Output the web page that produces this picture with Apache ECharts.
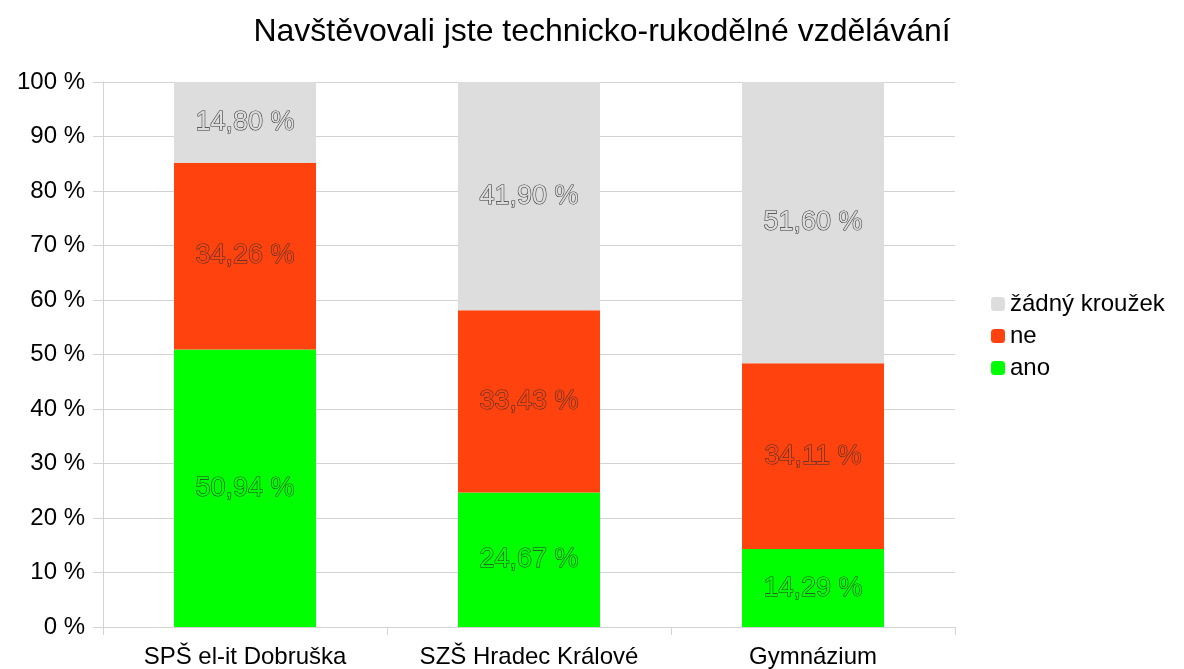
<!DOCTYPE html>
<html>
<head>
<meta charset="utf-8">
<script src="https://cdn.jsdelivr.net/npm/echarts@6/dist/echarts.min.js"></script>
<style>
  html, body { margin: 0; padding: 0; background: #fff; }
  #chart { width: 1184px; height: 669px; }
</style>
</head>
<body>
<div id="chart"></div>
<script>
// data
var categories = ['SPŠ el-it Dobruška', 'SZŠ Hradec Králové', 'Gymnázium'];
var ano = [50.94, 24.67, 14.29];
var ne = [34.26, 33.43, 34.11];
var zadny = [14.80, 41.90, 51.60];

var font = 'Liberation Sans';
var lineGray = '#d3d3d3';

function fmt(p) {
    return p.value.toFixed(2).replace('.', ',') + ' %';
}

function makeSeries(name, data, color) {
    return {
        name: name,
        type: 'bar',
        stack: 'total',
        barWidth: '50%',
        data: data,
        itemStyle: { color: color },
        label: {
            show: true,
            position: 'inside',
            formatter: fmt,
            fontFamily: font,
            fontSize: 27,
            color: color,
            textBorderColor: '#333',
            textBorderWidth: 1.1
        }
    };
}

var chart = echarts.init(document.getElementById('chart'));
chart.setOption({
    animation: false,
    title: {
        text: 'Navštěvovali jste technicko-rukodělné vzdělávání',
        left: 597,
        textAlign: 'center',
        top: 11,
        textStyle: { fontFamily: font, fontSize: 32, fontWeight: 'normal', color: '#000' }
    },
    legend: {
        orient: 'vertical',
        left: 986,
        top: 287,
        itemWidth: 14,
        itemHeight: 14,
        itemGap: 8,
        data: ['žádný kroužek', 'ne', 'ano'],
        textStyle: { fontFamily: font, fontSize: 24, color: '#000' }
    },
    grid: { left: 103, right: 229, top: 82, bottom: 41 },
    xAxis: {
        type: 'category',
        data: categories,
        axisLine: { lineStyle: { color: lineGray } },
        axisTick: { show: true, length: 8, lineStyle: { color: lineGray } },
        axisLabel: { interval: 0, hideOverlap: false, fontFamily: font, fontSize: 24, color: '#000', margin: 18 }
    },
    yAxis: {
        type: 'value',
        min: 0,
        max: 100,
        interval: 10,
        axisLine: { show: true, lineStyle: { color: lineGray } },
        axisTick: { show: true, length: 10, lineStyle: { color: lineGray } },
        splitLine: { lineStyle: { color: lineGray } },
        axisLabel: { formatter: '{value} %', fontFamily: font, fontSize: 24, color: '#000', margin: 18 }
    },
    series: [
        makeSeries('ano', ano, '#00ff00'),
        makeSeries('ne', ne, '#ff420e'),
        makeSeries('žádný kroužek', zadny, '#dddddd')
    ]
});
</script>
</body>
</html>
